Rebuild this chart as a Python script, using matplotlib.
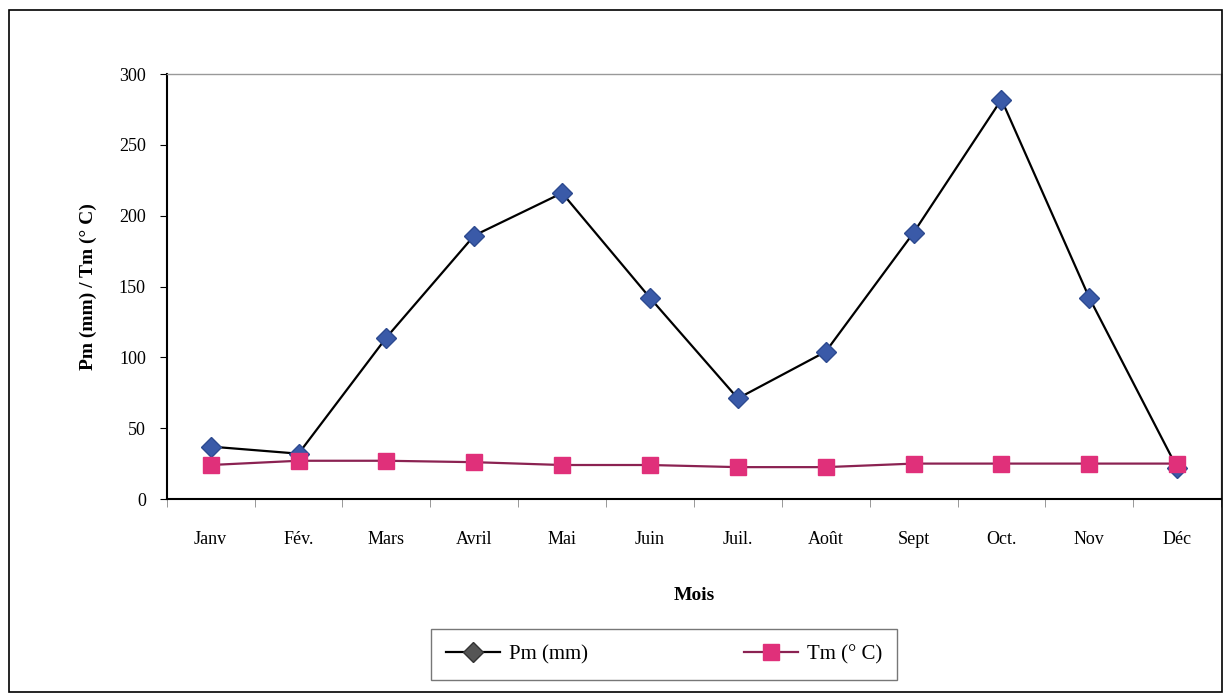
import matplotlib.pyplot as plt
import numpy as np

mois = ['Janv', 'Fév.', 'Mars', 'Avril', 'Mai', 'Juin', 'Juil.', 'Août', 'Sept', 'Oct.', 'Nov', 'Déc']
pm = [37, 32, 114, 186, 216, 142, 71, 104, 188, 282, 142, 22]
tm = [24, 27, 27, 26, 24, 24, 22.5, 22.5, 25, 25, 25, 25]

plt.rcParams['font.family'] = ['Liberation Serif', 'DejaVu Serif']

fig = plt.figure(figsize=(12.26, 6.95), dpi=100)
# cadre exterieur
fig.add_artist(plt.Rectangle((0.007, 0.005), 0.99, 0.98, transform=fig.transFigure,
                             fill=False, edgecolor='black', linewidth=1.2))
ax = fig.add_axes([0.136, 0.282, 0.86, 0.6115])

x = np.arange(len(mois))
ax.plot(x, pm, color='black', linewidth=1.6, marker='D', markersize=10,
        markerfacecolor='#3a5aa8', markeredgecolor='#2d4a90', label='Pm (mm)')
ax.plot(x, tm, color='#8b2252', linewidth=1.6, marker='s', markersize=12,
        markerfacecolor='#e0307a', markeredgecolor='#e0307a', label='Tm (° C)')

ax.set_xlim(-0.5, 11.5)
ax.set_ylim(0, 300)
ax.set_yticks(np.arange(0, 301, 50))
ax.set_xticks(x)
ax.set_xticklabels(mois, fontsize=13)
ax.set_xticks(np.arange(-0.5, 12, 1), minor=True)
ax.tick_params(axis='x', which='major', length=0, pad=23)
ax.tick_params(axis='x', which='minor', length=6, color='#888888')
ax.tick_params(axis='y', labelsize=13, length=5, direction='out', pad=10)

for s in ['top', 'right']:
    ax.spines[s].set_color('#999999')
    ax.spines[s].set_linewidth(1.0)
ax.spines['left'].set_linewidth(1.5)
ax.spines['bottom'].set_linewidth(1.5)

ax.set_xlabel('Mois', fontsize=14, fontweight='bold', labelpad=28)
ax.set_ylabel('Pm (mm) / Tm (° C)', fontsize=14, fontweight='bold', labelpad=16)

leg = fig.legend(loc='center', bbox_to_anchor=(0.5416, 0.058), ncol=2, fontsize=15,
                 frameon=True, fancybox=False, edgecolor='#555555',
                 handlelength=2.6, handletextpad=0.4, columnspacing=7.5, borderpad=0.75)
leg.get_frame().set_linewidth(1.0)
leg.legend_handles[0].set_markerfacecolor('#555555')
leg.legend_handles[0].set_markeredgecolor('#333333')

fig.savefig('out.png', dpi=100)
